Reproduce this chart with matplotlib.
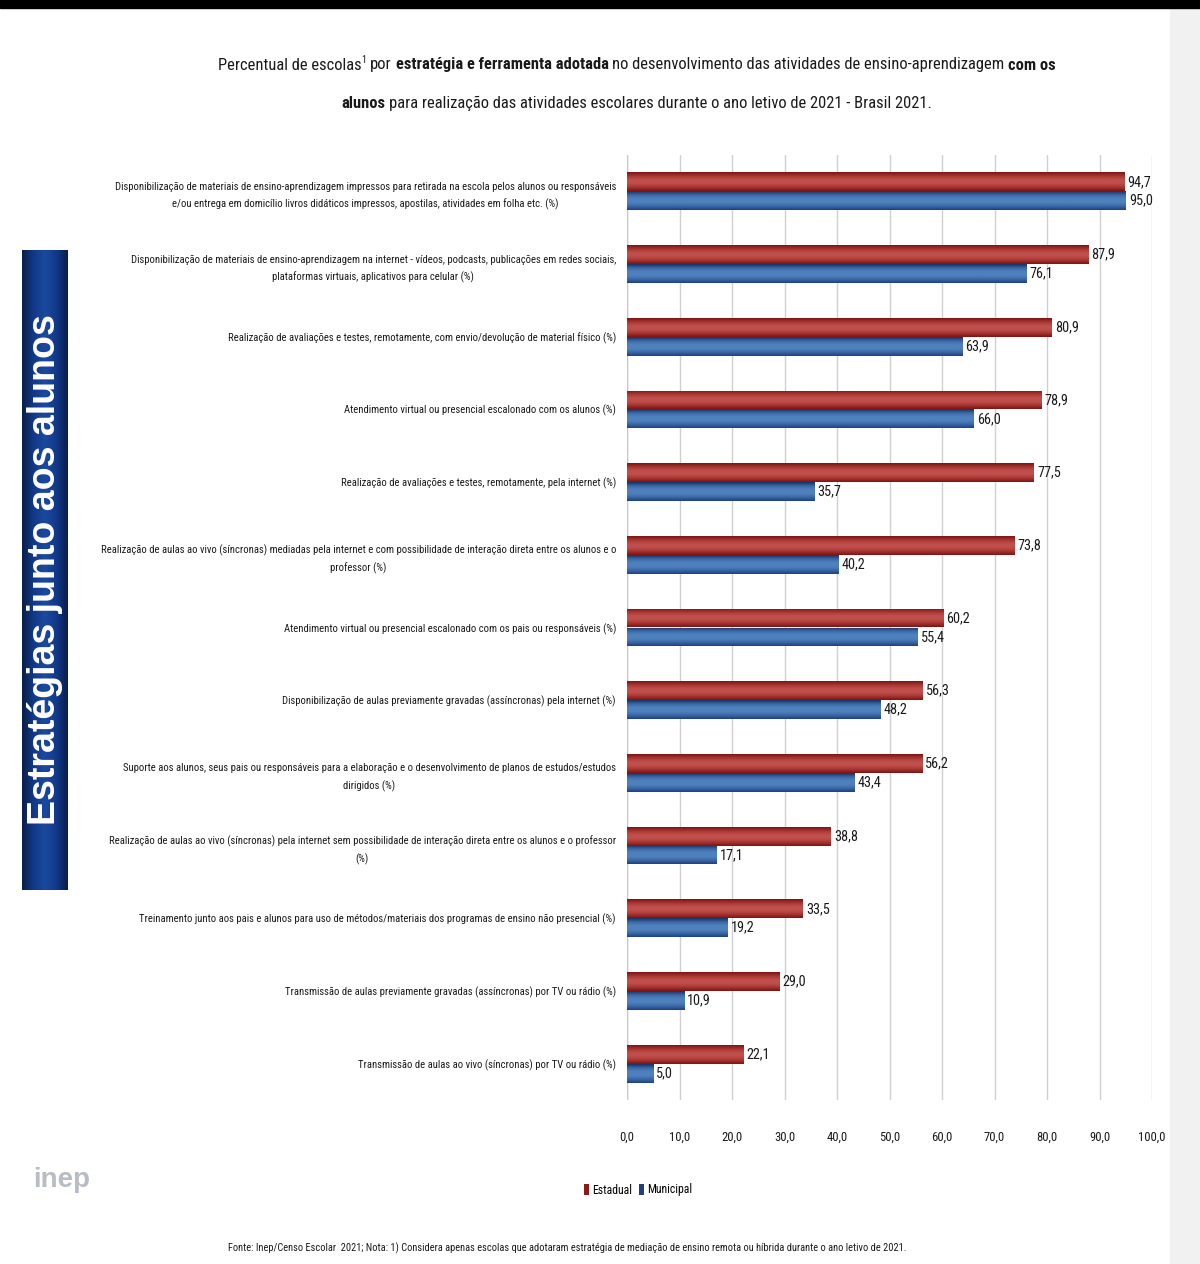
import numpy as np
import matplotlib
matplotlib.use("Agg")
import matplotlib.pyplot as plt
from matplotlib import font_manager
from matplotlib.patches import Patch, Rectangle
from matplotlib.colors import LinearSegmentedColormap

# pick the narrowest family that is actually installed
names = {f.name for f in font_manager.fontManager.ttflist}
narrow = [n for n in ["Liberation Sans Narrow", "Roboto Condensed", "Open Sans Condensed",
                      "Roboto", "Liberation Sans"] if n in names]
plt.rcParams["font.family"] = narrow[:1] + ["DejaVu Sans"]
plt.rcParams["font.stretch"] = "condensed"

# ── Data ─────────────────────────────────────────────────────────────────────
categories = [
    "Disponibilização de materiais de ensino-aprendizagem impressos para retirada na escola pelos alunos ou responsáveis\n"
    "e/ou entrega em domicílio livros didáticos impressos, apostilas, atividades em folha etc. (%)",
    "Disponibilização de materiais de ensino-aprendizagem na internet - vídeos, podcasts, publicações em redes sociais,\n"
    "plataformas virtuais, aplicativos para celular (%)",
    "Realização de avaliações e testes, remotamente, com envio/devolução de material físico (%)",
    "Atendimento virtual ou presencial escalonado com os alunos (%)",
    "Realização de avaliações e testes, remotamente, pela internet (%)",
    "Realização de aulas ao vivo (síncronas) mediadas pela internet e com possibilidade de interação direta entre os alunos e o\n"
    "professor (%)",
    "Atendimento virtual ou presencial escalonado com os pais ou responsáveis (%)",
    "Disponibilização de aulas previamente gravadas (assíncronas) pela internet (%)",
    "Suporte aos alunos, seus pais ou responsáveis para a elaboração e o desenvolvimento de planos de estudos/estudos\n"
    "dirigidos (%)",
    "Realização de aulas ao vivo (síncronas) pela internet sem possibilidade de interação direta entre os alunos e o professor\n"
    "(%)",
    "Treinamento junto aos pais e alunos para uso de métodos/materiais dos programas de ensino não presencial (%)",
    "Transmissão de aulas previamente gravadas (assíncronas) por TV ou rádio (%)",
    "Transmissão de aulas ao vivo (síncronas) por TV ou rádio (%)",
]
estadual = [94.7, 87.9, 80.9, 78.9, 77.5, 73.8, 60.2, 56.3, 56.2, 38.8, 33.5, 29.0, 22.1]
municipal = [95.0, 76.1, 63.9, 66.0, 35.7, 40.2, 55.4, 48.2, 43.4, 17.1, 19.2, 10.9, 5.0]
xticks = [0, 10, 20, 30, 40, 50, 60, 70, 80, 90, 100]
series_names = ["Estadual", "Municipal"]

# ── Figure ───────────────────────────────────────────────────────────────────
W, H = 1200, 1264
fig = plt.figure(figsize=(W / 100, H / 100), dpi=100)
fig.patch.set_facecolor("white")
renderer = fig.canvas.get_renderer()


def txt_width(s, **kw):
    t = fig.text(0, 0, s, **kw)
    w = t.get_window_extent(renderer).width
    t.remove()
    return w


def fit(s, target, weight="normal", base=10.0, family=None):
    kw = dict(fontsize=base, fontweight=weight)
    if family:
        kw["family"] = family
    return base * target / txt_width(s, **kw)


# sizes fitted to the widths seen in the reference
lab_fs = fit(categories[5].split("\n")[0], 512)
val_fs = min(fit("94,7", 24), 11.5)
tick_fs = min(fit("100,0", 27), 11)
leg_fs = min(fit("Estadual", 40), 11)
foot_fs = fit("Fonte: Inep/Censo Escolar  2021; Nota: 1) Considera apenas escolas que adotaram estratégia de "
              "mediação de ensino remota ou híbrida durante o ano letivo de 2021.", 670)

# black band on top
fig.add_artist(Rectangle((0, 1 - 8 / H), 1, 8 / H, transform=fig.transFigure,
                         color="black", zorder=5))
# faint grey frame at right
fig.add_artist(Rectangle((1170 / W, 0), 30 / W, 1 - 8 / H, transform=fig.transFigure,
                         color="#f1f1f1", zorder=0))

ax = fig.add_axes([627 / W, 1 - 1100 / H, 525 / W, 945 / H])
y = np.arange(len(categories))
h = 0.26

red_cmap = LinearSegmentedColormap.from_list(
    "r", ["#7a1414", "#a83532", "#c0504d", "#c0504d", "#a83532", "#7a1414"])
blue_cmap = LinearSegmentedColormap.from_list(
    "b", ["#16305f", "#3c69a8", "#4f81bd", "#4f81bd", "#3c69a8", "#1f3f7f"])
grad = np.linspace(0, 1, 64).reshape(-1, 1)

bars_e = ax.barh(y - h / 2, estadual, height=h, color="none", zorder=3)
bars_m = ax.barh(y + h / 2, municipal, height=h, color="none", zorder=3)
for bars, cmap in [(bars_e, red_cmap), (bars_m, blue_cmap)]:
    for b in bars:
        x0, y0 = b.get_x(), b.get_y()
        im = ax.imshow(grad, cmap=cmap, aspect="auto", zorder=3, origin="lower",
                       extent=[x0, x0 + b.get_width(), y0, y0 + b.get_height()],
                       interpolation="bicubic")
        im.set_clip_path(b)

for bars, vals in [(bars_e, estadual), (bars_m, municipal)]:
    for b, v in zip(bars, vals):
        ax.text(b.get_width() + 0.6, b.get_y() + b.get_height() / 2,
                f"{v:.1f}".replace(".", ","), va="center", ha="left",
                fontsize=val_fs, color="#1a1a1a", zorder=4)

ax.set_xlim(0, 100)
ax.set_ylim(len(categories) - 0.5, -0.5)
ax.set_xticks(xticks)
ax.set_xticklabels([f"{t:.1f}".replace(".", ",") for t in xticks], fontsize=tick_fs)
ax.set_yticks(y)
ax.set_yticklabels(categories, fontsize=lab_fs, multialignment="center", linespacing=1.75)
ax.tick_params(axis="both", length=0, colors="#1a1a1a")
ax.tick_params(axis="x", pad=22)
ax.tick_params(axis="y", pad=8)
ax.grid(axis="x", color="#d0d0d0", linewidth=1, zorder=0)
ax.set_axisbelow(True)
for s in ax.spines.values():
    s.set_visible(False)
ax.axvline(0, color="#c8c8c8", linewidth=1, zorder=1)


# ── Title with mixed weights ─────────────────────────────────────────────────
def rich_line(parts, ypix, cxpix, fs, draw=True):
    sp = txt_width("x x", fontsize=fs) - txt_width("xx", fontsize=fs)
    items = []
    total = 0
    for s, weight, sup, gap in parts:
        size = fs * 0.6 if sup else fs
        w = txt_width(s, fontsize=size, fontweight=weight)
        items.append((s, weight, sup, size, w, gap))
        total += w + (sp if gap else 0)
    if not draw:
        return total
    x = cxpix - total / 2
    for s, weight, sup, size, w, gap in items:
        yy = ypix - (fs * 0.45 if sup else 0)
        fig.text(x / W, 1 - yy / H, s, fontsize=size, fontweight=weight,
                 ha="left", va="center", color="#1a1a1a")
        x += w + (sp if gap else 0)
    return total


line1 = [("Percentual de escolas", "normal", False, False),
         ("1", "normal", True, True),
         ("por", "normal", False, True),
         ("estratégia e ferramenta adotada", "bold", False, True),
         ("no desenvolvimento das atividades de ensino-aprendizagem", "normal", False, True),
         ("com os", "bold", False, False)]
line2 = [("alunos", "bold", False, True),
         ("para realização das atividades escolares durante o ano letivo de 2021 - Brasil 2021.",
          "normal", False, False)]
tfs = 10 * 835 / rich_line(line1, 0, 0, 10, draw=False)
rich_line(line1, 65, 637, tfs)
rich_line(line2, 103, 637, tfs)

# ── Left side label box ──────────────────────────────────────────────────────
bax = fig.add_axes([22 / W, 1 - 890 / H, 46 / W, 640 / H])
box_cmap = LinearSegmentedColormap.from_list(
    "bx", ["#0a1f4a", "#12398a", "#1a4a9e", "#12398a", "#0a1f4a"])
bax.imshow(np.linspace(0, 1, 64).reshape(1, -1), cmap=box_cmap, aspect="auto",
           extent=[0, 1, 0, 1], interpolation="bicubic")
bax.set_xlim(0, 1)
bax.set_ylim(0, 1)
bax.axis("off")
box_family = ["Liberation Sans", "DejaVu Sans"]
box_fs = min(fit("Estratégias junto aos alunos", 515, "bold", family=box_family), 27)
bax.text(0.5, 0.5, "Estratégias junto aos alunos", rotation=90, ha="center", va="center",
         color="white", fontsize=box_fs, fontweight="bold", family=box_family,
         fontstretch="normal")

# ── Logo, legend, footer ─────────────────────────────────────────────────────
fig.text(62 / W, 1 - 1180 / H, "inep", fontsize=20, fontweight="bold", color="#b8bcc4",
         ha="center", va="center", family=box_family, fontstretch="normal")

handles = [Patch(facecolor="#8b1a1a"), Patch(facecolor="#1f3f7f")]
fig.legend(handles, series_names, loc="center", bbox_to_anchor=(638 / W, 1 - 1190 / H),
           ncol=2, frameon=False, fontsize=leg_fs, handlelength=0.45, handleheight=1.1,
           handletextpad=0.25, columnspacing=0.6)

fig.text(567 / W, 1 - 1248 / H,
         "Fonte: Inep/Censo Escolar  2021; Nota: 1) Considera apenas escolas que adotaram estratégia de "
         "mediação de ensino remota ou híbrida durante o ano letivo de 2021.",
         fontsize=foot_fs, ha="center", va="center", color="#1a1a1a")

fig.savefig("out.png", dpi=100)
